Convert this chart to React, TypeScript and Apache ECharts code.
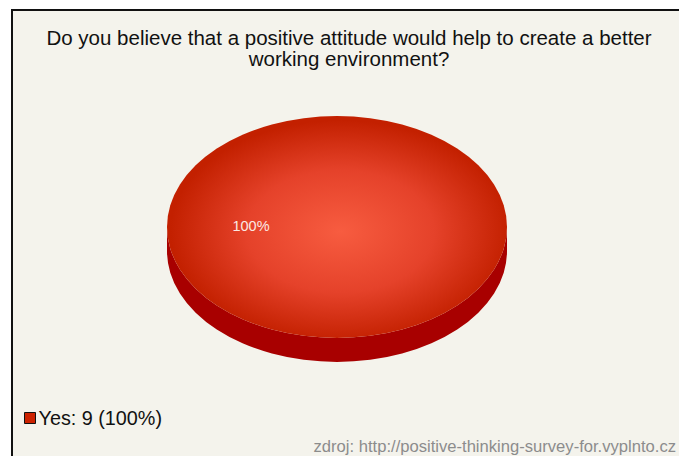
import React, { useEffect, useRef } from "react";
import * as echarts from "echarts";

const categories = ["Yes"];
const counts = [9];
const titleLines = [
  "Do you believe that a positive attitude would help to create a better",
  "working environment?",
];
const sourceText = "zdroj: http://positive-thinking-survey-for.vyplnto.cz";

const FONT = "Liberation Sans";
const CX = 337;
const CY = 227;
const RX = 170;
const RY = 111;
const DEPTH = 24;

function pt(a: number, dy = 0) {
  return [CX + RX * Math.cos(a), CY + dy + RY * Math.sin(a)];
}

function topPath(a0: number, a1: number) {
  if (a1 - a0 >= Math.PI * 2 - 1e-6) {
    return `M${CX + RX},${CY} A${RX},${RY} 0 1 1 ${CX - RX},${CY} A${RX},${RY} 0 1 1 ${CX + RX},${CY} Z`;
  }
  const p0 = pt(a0);
  const p1 = pt(a1);
  const large = a1 - a0 > Math.PI ? 1 : 0;
  return `M${CX},${CY} L${p0[0]},${p0[1]} A${RX},${RY} 0 ${large} 1 ${p1[0]},${p1[1]} Z`;
}

function sidePath(a0: number, a1: number) {
  const s = Math.max(a0, 0);
  const e = Math.min(a1, Math.PI);
  if (e <= s) return "";
  const p0 = pt(s);
  const p1 = pt(e);
  const q1 = pt(e, DEPTH);
  const q0 = pt(s, DEPTH);
  return `M${p0[0]},${p0[1]} A${RX},${RY} 0 0 1 ${p1[0]},${p1[1]} L${q1[0]},${q1[1]} A${RX},${RY} 0 0 0 ${q0[0]},${q0[1]} Z`;
}

const total = counts.reduce((a, b) => a + b, 0);

function makeRender(i: number) {
  return (_params: any, api: any) => {
    const before = counts.slice(0, i).reduce((a, b) => a + b, 0);
    const v = api.value(0);
    const a0 = (before / total) * Math.PI * 2;
    const a1 = ((before + v) / total) * Math.PI * 2;
    const mid = (a0 + a1) / 2;
    const pct = Math.round((v / total) * 100) + "%";
    const children: any[] = [];
    const side = sidePath(a0, a1);
    if (side) {
      children.push({
        type: "path",
        shape: { pathData: side },
        style: { fill: "#a80000" },
      });
    }
    children.push({
      type: "path",
      shape: { pathData: topPath(a0, a1) },
      style: {
        fill: new echarts.graphic.RadialGradient(0.51, 0.52, 0.5, [
          { offset: 0, color: "#f75c40" },
          { offset: 0.55, color: "#e5422a" },
          { offset: 1, color: "#c32000" },
        ]),
      },
    });
    children.push({
      type: "text",
      style: {
        text: pct,
        x: CX + RX * 0.5 * Math.cos(mid) - 1,
        y: CY + RY * 0.5 * Math.sin(mid) - 1,
        fill: "#fbe8e2",
        fontSize: 14.5,
        fontFamily: FONT,
        align: "center",
        verticalAlign: "middle",
      },
    });
    return { type: "group", children };
  };
}

export default function App() {
  const ref = useRef<HTMLDivElement>(null);
  useEffect(() => {
    if (!ref.current) return;
    const chart = echarts.init(ref.current, null, { renderer: "svg" });
    chart.setOption({
      animation: false,
      backgroundColor: "#ffffff",
      title: {
        text: titleLines.join("\n"),
        left: 349,
        top: 27,
        padding: 0,
        textAlign: "center",
        textStyle: {
          fontFamily: FONT,
          fontSize: 20.5,
          fontWeight: "normal",
          color: "#111111",
          lineHeight: 21,
        },
      },
      legend: {
        left: 24,
        top: 408,
        padding: 0,
        orient: "horizontal",
        itemWidth: 11,
        itemHeight: 11,
        itemGap: 4,
        data: categories.map((c) => ({
          name: c,
          icon: "rect",
          itemStyle: { color: "#cc2200", borderColor: "#111", borderWidth: 1 },
        })),
        formatter: (name: string) => {
          const i = categories.indexOf(name);
          return `${name}: ${counts[i]} (${Math.round((counts[i] / total) * 100)}%)`;
        },
        textStyle: { fontFamily: FONT, fontSize: 19.8, color: "#111", padding: [0, 0, 0, -2] },
      },
      graphic: [
        { type: "rect", z: -10, silent: true, shape: { x: 11, y: 9, width: 700, height: 500 }, style: { fill: "#111111" } },
        { type: "rect", z: -9, silent: true, shape: { x: 13, y: 11, width: 700, height: 500 }, style: { fill: "#f4f3ec" } },
        {
          type: "text",
          z: 5,
          style: {
            text: sourceText,
            x: 676,
            y: 446,
            align: "right",
            verticalAlign: "middle",
            fill: "#8c8c8c",
            fontSize: 16.6,
            fontFamily: FONT,
          },
        },
      ],
      series: categories.map((c, i) => ({
        type: "custom",
        name: c,
        coordinateSystem: "none",
        data: [[counts[i]]],
        itemStyle: { color: "#cc2200" },
        renderItem: makeRender(i),
      })),
    });
    return () => chart.dispose();
  }, []);
  return (
    <div
      ref={ref}
      style={{ position: "absolute", left: 0, top: 0, width: 679, height: 456 }}
    />
  );
}
